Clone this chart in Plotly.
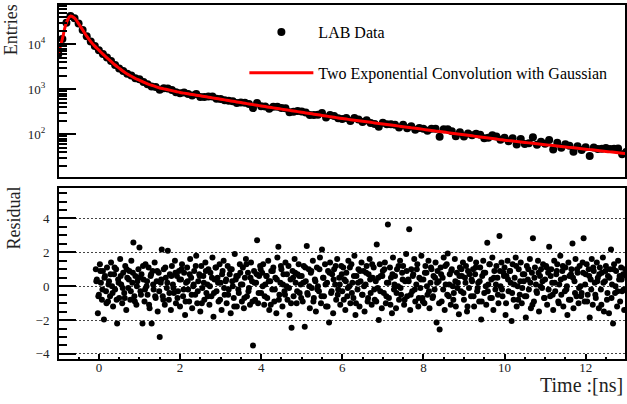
import numpy as np
import plotly.graph_objects as go

# ---------------- data ----------------
# time of the top-panel points / fit curve (ns)
fit_t = np.round(np.arange(-1.0, 13.0001, 0.1), 2)
# log10 of fitted curve
fit_log10 = [
    3.78, 4.12, 4.48, 4.63, 4.58, 4.46, 4.32, 4.18, 4.06, 3.96,
    3.87, 3.78, 3.70, 3.62, 3.54, 3.47, 3.40, 3.34, 3.29, 3.24,
    3.20, 3.16, 3.12, 3.09, 3.06, 3.03, 3.01, 2.99, 2.97, 2.95,
    2.930, 2.915, 2.900, 2.885, 2.870, 2.855, 2.840, 2.825, 2.810, 2.795,
    2.780, 2.765, 2.750, 2.735, 2.720, 2.705, 2.690, 2.675, 2.660, 2.645,
    2.630, 2.616, 2.602, 2.588, 2.574, 2.560, 2.546, 2.532, 2.518, 2.504,
    2.490, 2.476, 2.462, 2.448, 2.434, 2.420, 2.406, 2.392, 2.378, 2.364,
    2.350, 2.338, 2.326, 2.314, 2.302, 2.290, 2.278, 2.266, 2.254, 2.242,
    2.230, 2.218, 2.206, 2.194, 2.182, 2.170, 2.158, 2.146, 2.134, 2.122,
    2.110, 2.098, 2.086, 2.074, 2.062, 2.050, 2.038, 2.026, 2.014, 2.002,
    1.990, 1.978, 1.966, 1.954, 1.942, 1.930, 1.918, 1.906, 1.894, 1.882,
    1.870, 1.860, 1.850, 1.840, 1.830, 1.820, 1.810, 1.800, 1.790, 1.780,
    1.770, 1.760, 1.750, 1.740, 1.730, 1.720, 1.710, 1.700, 1.690, 1.680,
    1.670, 1.660, 1.650, 1.640, 1.630, 1.620, 1.610, 1.600, 1.590, 1.580,
    1.570,
]

# residual points, set A (every 0.025 ns)
res_t = np.round(np.arange(-0.075, 13.0001, 0.025), 3)
res_vals = [
    1.0, 0.4, -1.6,
    # 0 - 1 ns
    -0.5, 1.3, 0.2, -0.8, 0.9, -1.97, 0.6, -0.3, 1.1, -0.9,
    0.3, -0.6, 1.4, 0.0, -1.2, 0.7, -0.2, 1.0, -2.2, 0.4,
    -0.7, 1.6, 0.1, -1.0, 0.8, -0.4, 1.2, -1.4, 0.5, -0.1,
    0.9, -0.8, 1.5, 0.2, 2.58, -0.6, 0.6, -1.1, 0.3, 1.0,
    # 1 - 2
    2.29, -0.3, 0.7, -2.2, 0.4, -0.9, 1.3, 0.0, -0.5, 1.1,
    -1.3, 0.6, -2.2, 0.9, -0.2, 1.4, -0.7, 0.3, -1.5, 0.8,
    -3.0, 0.2, 2.17, -0.6, 1.0, -1.1, 0.5, -0.1, 2.1, -0.8,
    0.7, -1.4, 1.2, 0.1, -0.4, 1.5, -1.0, 0.6, -0.3, 0.9,
    # 2 - 3
    -1.2, 0.4, 1.3, -0.6, 0.8, -1.7, 0.2, 1.1, -0.2, -0.9,
    1.6, 0.5, -1.3, 0.0, 0.9, -0.5, 1.8, -1.0, 0.3, 0.7,
    -1.5, 1.2, -0.1, 0.6, -0.8, 1.4, -0.4, 0.1, 1.0, -1.1,
    0.8, -0.6, 1.7, -1.8, 0.4, 1.1, -0.3, 0.5, -0.9, 1.3,
    # 3 - 4
    0.2, -1.4, 0.9, 1.5, -0.5, 0.3, -1.0, 1.2, -0.2, 0.7,
    -1.6, 1.0, 0.0, -0.7, 1.9, 0.4, -1.2, 0.6, -0.4, 1.3,
    0.1, -0.9, 1.1, -1.3, 0.5, 1.6, -0.6, 0.8, -0.1, -1.1,
    1.4, 0.3, -3.5, 0.9, -0.8, 0.2, 2.72, -1.0, 0.6, 1.2,
    # 4 - 5
    -0.4, 0.8, 1.3, -1.1, 0.1, 0.6, -0.7, 1.5, -1.4, 0.3,
    0.9, -0.2, 1.1, -0.9, 0.5, -1.6, 1.7, 2.33, -0.5, 0.2,
    1.0, -1.2, 0.7, -0.3, 1.4, 0.0, -0.8, 1.2, -1.7, 0.4,
    -2.46, 0.9, -0.6, 1.6, 0.2, -1.0, 0.7, 1.3, -0.4, 0.1,
    # 5 - 6
    0.6, -0.9, 1.2, -2.4, 0.3, 2.38, -0.5, 1.0, -1.3, 0.8,
    -0.1, 1.5, -0.7, 0.4, -1.5, 1.1, 0.0, -0.3, 1.7, -1.0,
    2.17, 0.5, -0.6, 1.3, -1.2, 0.2, 0.9, -2.15, 1.4, -0.4,
    0.7, -1.6, 1.0, 0.1, -0.8, 1.6, -0.2, 0.5, -1.1, 1.2,
    # 6 - 7
    -0.3, 1.1, 0.4, -1.4, 0.8, -0.6, 1.5, 0.0, -1.0, 1.3,
    0.2, -0.7, 1.8, -1.7, 0.6, -0.2, 1.0, -1.2, 0.3, 1.4,
    -0.5, 0.9, -1.5, 0.1, 1.2, -0.9, 0.7, 1.6, -0.4, -1.1,
    0.5, 1.1, -0.8, 0.3, 2.47, -0.1, -2.0, 1.3, 0.6, -1.3,
    # 7 - 8
    0.9, -0.4, 1.4, -1.0, 0.2, 3.65, -0.7, 1.1, 0.5, -1.6,
    1.7, -0.2, 0.6, -1.3, 1.0, 0.0, -0.8, 1.5, -0.5, 0.8,
    1.2, -1.1, 0.3, 1.9, -0.6, 0.4, 3.37, -1.4, 1.0, -0.3,
    0.7, 1.6, -0.9, 0.1, 1.3, -1.2, 0.5, -0.1, 1.8, -0.7,
    # 8 - 9
    0.4, -1.0, 1.2, 0.8, -0.5, 1.5, -1.3, 0.2, 1.0, -0.7,
    0.6, -0.2, 1.4, -2.15, 0.9, 0.3, -2.56, 1.1, -0.9, 0.5,
    1.7, -1.4, 0.1, 1.3, 1.93, -0.6, 0.7, -1.1, 1.0, 0.0,
    -0.4, 1.6, -1.2, 0.8, 0.2, -1.66, 1.1, -0.3, 0.6, 1.4,
    # 9 - 10
    -0.8, 0.5, 1.2, -1.5, 0.9, -0.1, 1.6, -0.6, 0.3, 1.0,
    -1.2, 0.7, 1.4, -0.3, 0.2, -0.9, 1.1, -1.97, 0.6, 1.5,
    -0.4, 0.8, -1.1, 2.56, 0.1, 1.3, -0.7, 0.4, 1.7, -1.4,
    0.9, -0.2, 1.2, 0.5, -1.0, 2.96, 0.0, 1.4, -0.6, 0.8,
    # 10 - 11
    1.1, -1.7, 0.6, 1.5, -0.3, 0.9, 0.2, -2.05, 1.3, -0.8,
    0.5, 1.7, -1.2, 0.0, 1.0, -0.5, 1.4, -1.0, 0.7, 0.3,
    -0.6, -1.85, 1.2, 0.4, -0.2, 1.6, -1.3, 0.8, 2.84, -0.9,
    1.1, 0.1, -0.4, 1.5, -1.5, 0.6, 1.0, -0.1, 1.3, -0.7,
    # 11 - 12
    0.4, 1.2, -1.1, 0.8, 2.33, -0.6, 1.0, 0.2, -1.4, 1.5,
    -0.3, 0.7, 1.3, -0.9, 0.1, 1.8, -0.5, 0.9, -1.2, 0.5,
    1.1, -0.2, -1.7, 1.4, 0.6, -0.8, 1.0, 2.52, -1.3, 0.3,
    1.6, -0.6, 0.8, -1.0, 1.2, 0.0, -0.4, 1.4, 2.84, -0.9,
    # 12 - 13
    0.7, 1.3, -0.5, 1.0, -1.85, 0.4, 1.6, -1.1, 0.9, 0.2,
    -0.7, 1.4, 0.5, -1.3, 1.1, -0.2, 0.8, 1.7, -1.5, 0.3,
    1.2, -0.8, 0.6, -1.6, 1.0, 2.17, 0.1, -2.2, 1.3, -0.4,
    0.9, -1.2, 1.5, 0.4, -0.9, 1.1, -0.3, 0.7, -1.4, 1.0,
    0.6,
]

# residual points, set B (in between, every 0.05 ns)
res2_t = np.round(np.arange(-0.0625, 12.99, 0.05), 4)
res2_vals = [
    0.3, -0.6, 0.9, -0.2, 0.5, -1.0, 0.1, 0.7, -0.4, 1.1, -0.8, 0.2, 0.6, -0.1, -0.7, 1.0, 0.4, -0.3, 0.8, -0.9,
    0.0, 0.5, -0.5, 1.2, -0.2, 0.3, -1.1, 0.7, 0.1, -0.6, 0.9, -0.3, 0.4, -0.8, 1.1, 0.2, -0.4, 0.6, -0.1, 0.8,
    -0.7, 0.4, 1.0, -0.2, -0.9, 0.3, 0.7, -0.5, 0.1, 1.2, -0.3, 0.6, -1.0, 0.2, 0.9, -0.6, 0.0, 0.5, -0.4, 1.1,
    0.2, -0.8, 0.7, -0.1, 0.4, -0.5, 1.0, 0.3, -1.2, 0.6, -0.2, 0.8, 0.1, -0.7, 1.3, -0.3, 0.5, -0.9, 0.2, 0.7,
    -0.4, 1.0, 0.0, -0.6, 0.6, 0.3, -1.1, 0.9, -0.2, 0.4, -0.8, 1.2, 0.1, -0.5, 0.7, -0.1, -1.0, 0.5, 0.8, -0.3,
    0.6, -0.7, 0.2, 1.1, -0.4, 0.0, 0.9, -0.9, 0.3, -0.2, 1.0, -0.6, 0.5, 0.1, -1.2, 0.8, -0.3, 0.4, 1.2, -0.5,
    0.1, 0.7, -0.8, 0.3, -0.1, 1.1, -0.4, 0.6, -1.0, 0.2, 0.9, -0.5, 0.0, 0.8, -0.7, 0.4, 1.3, -0.2, -0.9, 0.5,
    -0.3, 0.6, 1.0, -0.6, 0.2, -1.1, 0.7, 0.1, -0.4, 1.2, -0.1, 0.4, -0.8, 0.9, 0.3, -0.5, 0.6, -0.2, 1.0, -0.7,
    0.4, -0.9, 0.8, 0.0, -0.3, 1.1, -0.6, 0.5, 0.2, -1.0, 0.7, -0.2, 1.2, -0.5, 0.1, 0.9, -0.8, 0.3, -0.1, 0.6,
    1.0, -0.4, 0.2, -1.2, 0.7, 0.4, -0.6, 1.1, -0.1, 0.3, -0.9, 0.8, 0.0, -0.3, 1.3, -0.7, 0.5, 0.1, -0.5, 0.9,
    -0.2, 0.6, -1.0, 0.4, 0.9, -0.4, 0.1, 1.2, -0.8, 0.3, -0.1, 0.7, -0.6, 1.0, 0.2, -1.1, 0.5, -0.3, 0.8, 0.0,
    0.3, -0.7, 1.1, -0.2, 0.6, -0.5, 0.2, 0.9, -1.0, 0.4, 1.2, -0.3, 0.0, -0.8, 0.7, 0.5, -0.4, 1.0, -0.1, -0.6,
    0.8, 0.1, -0.9, 0.6, -0.2, 1.1, -0.5, 0.3, 0.7, -1.1, 0.2, 0.9, -0.4, 0.5, -0.7, 1.0, 0.0, -0.3, 0.6, 0.4,
    -0.2,
]

res_t = res_t[:len(res_vals)]
res2_t = res2_t[:len(res2_vals)]
all_res_t = np.concatenate([res_t, res2_t])
all_res_v = np.concatenate([np.array(res_vals), np.array(res2_vals)])

fit_counts = 10 ** np.array(fit_log10)
# top-panel data: fitted value shifted by its residual times sqrt(N)
res_lookup = {round(float(t), 3): v for t, v in zip(res_t, res_vals)}
data_counts = np.array([
    f + res_lookup.get(round(float(t), 3), 0.0) * np.sqrt(f)
    for t, f in zip(fit_t, fit_counts)
])

FONT = "Liberation Serif"

fig = go.Figure()
fig.add_trace(go.Scatter(
    x=fit_t, y=data_counts, mode="markers", name="LAB Data",
    marker=dict(color="black", size=8), xaxis="x2", yaxis="y2",
    legendgroup="a"))
fig.add_trace(go.Scatter(
    x=fit_t, y=fit_counts, mode="lines",
    name="Two Exponential Convolution with Gaussian",
    line=dict(color="#ff0000", width=3, shape="spline"),
    xaxis="x2", yaxis="y2", legendgroup="b"))
fig.add_trace(go.Scatter(
    x=all_res_t, y=all_res_v, mode="markers", showlegend=False,
    marker=dict(color="black", size=6), xaxis="x", yaxis="y"))

xr = [-0.983, 12.97]
tickfont = dict(family=FONT, size=13, color="#222")
line_common = dict(showline=True, linecolor="black", linewidth=2, mirror=True,
                   zeroline=False, showgrid=False)

minor_top_vals = [m * 10 ** e for e in range(1, 5) for m in range(2, 10)]

fig.update_layout(
    width=627, height=404,
    margin=dict(l=59, r=0, t=5, b=45),
    paper_bgcolor="white", plot_bgcolor="white",
    font=dict(family=FONT, color="black"),
    xaxis=dict(domain=[0, 1], anchor="y", range=xr,
               tickmode="array", tickvals=[0, 2, 4, 6, 8, 10, 12],
               ticks="inside", ticklen=5, tickwidth=1.5, tickcolor="black",
               minor=dict(dtick=0.5, tick0=0, ticks="inside", ticklen=2.5,
                          tickwidth=1.5, tickcolor="black"),
               ticklabelstandoff=-5,
               tickfont=tickfont, **line_common),
    yaxis=dict(domain=[0, 0.483], anchor="x", range=[-4.3, 5.8],
               tickmode="array", tickvals=[-4, -2, 0, 2, 4],
               ticks="inside", ticklen=17, tickwidth=2, tickcolor="black",
               minor=dict(dtick=0.5, tick0=0, ticks="inside", ticklen=8,
                          tickwidth=1.5, tickcolor="black"),
               ticklabelstandoff=5,
               tickfont=tickfont,
               showline=True, linecolor="black", linewidth=2, mirror=True,
               zeroline=False, showgrid=True, gridcolor="#444",
               gridwidth=1, griddash="2px,2px"),
    xaxis2=dict(domain=[0, 1], anchor="y2", range=xr, showticklabels=False,
                ticks="", **line_common),
    xaxis3=dict(overlaying="x2", anchor="y2", range=[-0.12, 13.0],
                tickmode="linear", tick0=0, dtick=2, showticklabels=False,
                ticks="inside", ticklen=6, tickwidth=1.5, tickcolor="black",
                minor=dict(dtick=0.5, tick0=0, ticks="inside", ticklen=3,
                           tickwidth=1.5, tickcolor="black"),
                showline=False, showgrid=False, zeroline=False),
    yaxis2=dict(domain=[0.514, 1], anchor="x2", type="log",
                range=[1.051, 4.873],
                tickmode="array", tickvals=[1e2, 1e3, 1e4],
                ticktext=["10<sup>2</sup>", "10<sup>3</sup>", "10<sup>4</sup>"],
                ticks="inside", ticklen=17, tickwidth=2, tickcolor="black",
                minor=dict(tickmode="array", tickvals=minor_top_vals,
                           ticks="inside", ticklen=8, tickwidth=1.5,
                           tickcolor="black"),
                ticklabelstandoff=9,
                tickfont=tickfont, **line_common),
    showlegend=True,
    legend=dict(x=0.3275, y=0.9715, xanchor="left", yanchor="top",
                bgcolor="rgba(0,0,0,0)", borderwidth=0,
                font=dict(family=FONT, size=16, color="black"),
                itemwidth=64, tracegroupgap=17),
    annotations=[
        dict(text="Entries", xref="paper", yref="paper", x=-0.0845, y=0.929,
             xanchor="center", yanchor="middle",
             textangle=-90, showarrow=False,
             font=dict(family=FONT, size=18, color="#222")),
        dict(text="Residual", xref="paper", yref="paper", x=-0.079, y=0.398,
             xanchor="center", yanchor="middle",
             textangle=-90, showarrow=False,
             font=dict(family=FONT, size=18, color="#222")),
        dict(text="Time :[ns]", xref="paper", yref="paper", x=1, y=-0.0734,
             xanchor="right", yanchor="middle", showarrow=False,
             font=dict(family=FONT, size=20, color="#222")),
    ],
)

fig.write_html("out.html",
               config={"displayModeBar": False},
               post_script="document.body.style.margin='0px';"
                           "document.body.style.overflow='hidden';")
